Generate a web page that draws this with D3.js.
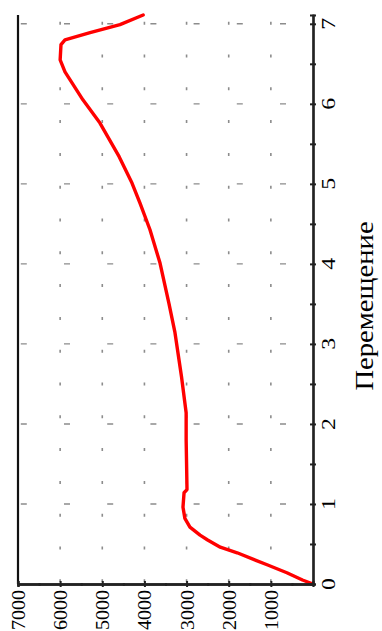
<!DOCTYPE html>
<html><head><meta charset="utf-8">
<script src="https://cdn.jsdelivr.net/npm/d3@7"></script>
<style>html,body{margin:0;padding:0;background:#fff;overflow:hidden}
text{font-family:"Liberation Serif","Times New Roman",Times,serif}</style>
</head><body>
<svg id="c" width="382" height="631"></svg>
<script>
// Displacement (Перемещение) and force values
const displacement = [0, 0.05, 0.14, 0.24, 0.39, 0.46, 0.55, 0.61, 0.71, 0.82, 0.96, 1.14, 1.18, 1.5, 1.8, 2.14, 2.59, 3.14, 3.51, 4.01, 4.43, 4.76, 5.01, 5.34, 5.76, 6.05, 6.4, 6.55, 6.74, 6.8, 6.89, 6.99, 7.11];
const force =        [0, 250, 620, 1090, 1800, 2200, 2500, 2680, 2920, 3040, 3085, 3060, 2990, 3000, 3010, 3010, 3120, 3275, 3420, 3630, 3870, 4105, 4295, 4600, 5055, 5460, 5885, 6000, 5980, 5885, 5290, 4580, 4030];
const dispTicks = [0, 1, 2, 3, 4, 5, 6, 7];
const dispMinor = [0.5, 1.5, 2.5, 3.5, 4.5, 5.5, 6.5];
const forceTicks = [1000, 2000, 3000, 4000, 5000, 6000, 7000];
const forceMinor = [500, 1500, 2500, 3500, 4500, 5500, 6500];
const axisTitle = "Перемещение";

const svg = d3.select("#c");
const x = d3.scaleLinear().domain([0, 7000]).range([313, 18]);   // force, leftward
const y = d3.scaleLinear().domain([0, 7.11]).range([584, 15]);   // displacement, upward

// grid: vertical dotted lines at force ticks
svg.append("g").selectAll("line").data(forceTicks.filter(v => v < 7000)).join("line")
  .attr("x1", d => x(d)).attr("x2", d => x(d))
  .attr("y1", y(0)).attr("y2", y(7.11))
  .attr("stroke", "#8c8c8c").attr("stroke-width", 1.6)
  .attr("stroke-dasharray", "3,29.8").attr("stroke-dashoffset", 31.1);
// grid: horizontal dashed lines at displacement ticks
svg.append("g").selectAll("line").data(dispTicks.filter(v => v > 0)).join("line")
  .attr("x1", x(7000)).attr("x2", x(0))
  .attr("y1", d => y(d)).attr("y2", d => y(d))
  .attr("stroke", "#8c8c8c").attr("stroke-width", 1.4)
  .attr("stroke-dasharray", "6,37.2").attr("stroke-dashoffset", 40.4);

// curve
const pts = displacement.map((d, i) => [force[i], d]);
svg.append("path").datum(pts)
  .attr("d", d3.line().x(p => x(p[0])).y(p => y(p[1])).curve(d3.curveLinear))
  .attr("fill", "none").attr("stroke", "#ff0000").attr("stroke-width", 3.4)
  .attr("stroke-linejoin", "round").attr("stroke-linecap", "round");

// left border line
svg.append("line").attr("x1", x(7000)).attr("x2", x(7000)).attr("y1", y(7.11)).attr("y2", y(0))
  .attr("stroke", "#111").attr("stroke-width", 2.2);

// right axis (displacement)
const rightG = svg.append("g").attr("transform", `translate(${x(0)},0)`);
rightG.append("g").call(d3.axisRight(y).tickValues(dispTicks.concat(dispMinor)).tickSize(3).tickFormat(""));
rightG.append("g").call(d3.axisLeft(y).tickValues(dispTicks.concat(dispMinor)).tickSize(3).tickFormat(""));
rightG.selectAll("path.domain").attr("stroke", "#222").attr("stroke-width", 2.2);
rightG.selectAll(".tick line").attr("stroke", "#222").attr("stroke-width", 2);

// bottom axis (force)
const botG = svg.append("g").attr("transform", `translate(0,${y(0)})`);
botG.append("g").call(d3.axisBottom(x).tickValues(forceTicks).tickSize(3).tickFormat(""));
botG.append("g").call(d3.axisTop(x).tickValues(forceTicks).tickSize(3).tickFormat(""));
botG.append("g").call(d3.axisBottom(x).tickValues(forceMinor).tickSize(2).tickFormat(""));
botG.append("g").call(d3.axisTop(x).tickValues(forceMinor).tickSize(1).tickFormat(""));
botG.selectAll("path.domain").attr("stroke", "#222").attr("stroke-width", 2.2);
botG.selectAll(".tick line").attr("stroke", "#222").attr("stroke-width", 2);

// right labels (rotated)
svg.append("g").selectAll("text").data(dispTicks).join("text")
  .attr("transform", d => `translate(335,${y(d)}) rotate(-90) scale(1.25,1)`)
  .attr("text-anchor", "middle")
  .attr("font-size", 19).attr("fill", "#000")
  .text(d => d);

// bottom labels (rotated)
svg.append("g").selectAll("text").data(forceTicks).join("text")
  .attr("transform", d => `translate(${x(d) + 7},590) rotate(-90) scale(1.05,1)`)
  .attr("text-anchor", "end")
  .attr("font-size", 19).attr("fill", "#000")
  .text(d => d);

// axis title
svg.append("text")
  .attr("transform", `translate(373,306) rotate(-90) scale(1.1,1)`)
  .attr("text-anchor", "middle")
  .attr("font-size", 26).attr("fill", "#000")
  .text(axisTitle);
</script>
</body></html>
